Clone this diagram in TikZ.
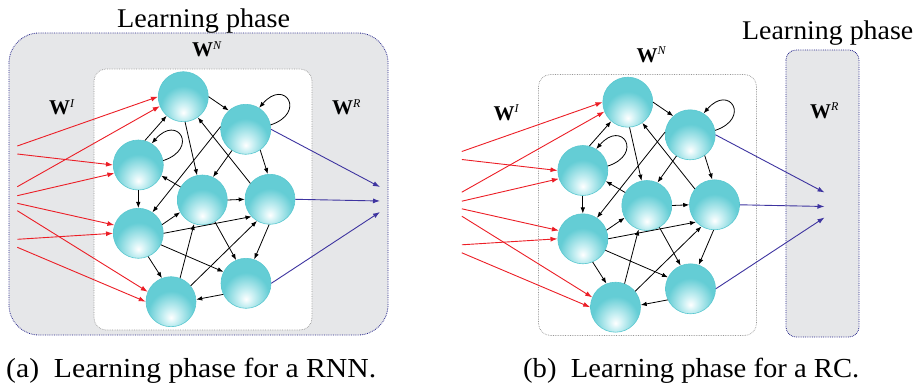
\documentclass[tikz,border=0pt]{standalone}
\usepackage{fontspec}
\setmainfont{Liberation Serif}
\usepackage{graphicx}
\usetikzlibrary{arrows.meta}
\definecolor{ballM}{RGB}{100,205,213}
\definecolor{ballL}{RGB}{205,241,244}
\definecolor{ballE}{RGB}{90,200,208}
\definecolor{redA}{RGB}{236,30,38}
\definecolor{blueA}{RGB}{62,52,160}
\definecolor{grayF}{RGB}{230,231,233}
\definecolor{outerB}{RGB}{40,40,140}
\definecolor{innerB}{RGB}{150,150,150}
\pgfdeclareradialshading{glassball}{\pgfpoint{0bp}{-16bp}}{%
  color(0bp)=(white); color(7bp)=(ballL); color(23bp)=(ballM);
  color(40bp)=(ballM); color(100bp)=(ballM)}
\tikzset{
  ball/.style={circle, minimum size=50pt, inner sep=0pt, shading=glassball,
    draw=ballE, line width=0.6pt},
  blk/.style={draw=black, line width=0.8pt, -{Latex[length=6pt,width=4.5pt]}},
  redar/.style={draw=redA, line width=0.9pt, -{Latex[length=7pt,width=5pt]}},
  bluear/.style={draw=blueA, line width=0.9pt, -{Latex[length=7pt,width=5pt]}},
  lptxt/.style={font=\fontsize{27}{30}\selectfont, inner sep=0pt, anchor=base west},
  wlab/.style={font=\fontsize{21}{23}\selectfont\bfseries, inner sep=0pt, anchor=base west},
  captxt/.style={font=\fontsize{27.5}{30}\selectfont, inner sep=0pt, anchor=base west},
  outerbox/.style={fill=grayF, draw=outerB, line width=0.8pt, densely dotted},
  innerbox/.style={fill=white, draw=innerB, line width=0.7pt, densely dotted}
}
\newcommand\Wsup[1]{W\raisebox{7.5pt}{\fontsize{12}{12}\selectfont\mdseries\itshape #1}}
\newcommand\mynet[1]{%
  % inner box
  \draw[innerbox, rounded corners=12pt] (94,69) rectangle (312,330);
  \node[wlab] (#1wn) at (192,56.7) {\Wsup{N}};
  \node[wlab] (#1wi) at (49,115) {\Wsup{I}};
  % neurons
  \node[ball] (#1n1) at (183.3,96.7) {};
  \node[ball] (#1n2) at (245.7,129.3) {};
  \node[ball] (#1n3) at (138.3,165) {};
  \node[ball] (#1n4) at (202.3,200) {};
  \node[ball] (#1n5) at (270,199.3) {};
  \node[ball] (#1n6) at (138.3,233.3) {};
  \node[ball] (#1n7) at (246,283.3) {};
  \node[ball] (#1n8) at (171,301.7) {};
  % internal connections
  \draw[blk] (#1n1.0) -- (#1n2.132);
  \draw[blk] (#1n3.75) -- (#1n1.229);
  \draw[blk] (#1n1.274) -- (#1n4.102);
  \draw[blk] (#1n5.141) -- (#1n1.305);
  \draw[blk] (#1n2.174) -- (#1n6.56);
  \draw[blk] (#1n2.237) -- (#1n4.65);
  \draw[blk] (#1n2.305) -- (#1n5.95);
  \draw[blk] (#1n4.149) -- (#1n3.335);
  \draw[blk] (#1n3.270) -- (#1n6.90);
  \draw[blk] (#1n4.0) -- (#1n5.180);
  \draw[blk] (#1n6.20) -- (#1n4.209);
  \draw[blk] (#1n6.0) -- (#1n5.223);
  \draw[blk] (#1n6.333) -- (#1n7.153);
  \draw[blk] (#1n6.293) -- (#1n8.111);
  \draw[blk] (#1n8.69) -- (#1n4.251);
  \draw[blk] (#1n8.39) -- (#1n5.239);
  \draw[blk] (#1n4.300) -- (#1n7.113);
  \draw[blk] (#1n5.268) -- (#1n7.71);
  \draw[blk] (#1n7.206) -- (#1n8.5);
  % self loops
  \draw[blk] (#1n2.10) .. controls +(36,-12) and +(26,-30) .. (#1n2.58);
  \draw[blk] (#1n3.10) .. controls +(36,-12) and +(26,-30) .. (#1n3.58);
  % input connections
  \coordinate (#1s1) at (17.3,146);
  \coordinate (#1s2) at (17.3,154);
  \coordinate (#1s3) at (17.3,186.7);
  \coordinate (#1s4) at (17.3,195.7);
  \coordinate (#1s5) at (17.3,203.3);
  \coordinate (#1s6) at (17.3,210.7);
  \coordinate (#1s7) at (17.3,239.3);
  \coordinate (#1s8) at (17.3,247.3);
  \draw[redar] (#1s1) -- (#1n1.180);
  \draw[redar] (#1s2) -- (#1n3.180);
  \draw[redar] (#1s3) -- (#1n1.202);
  \draw[redar] (#1s4) -- (#1n3.199);
  \draw[redar] (#1s5) -- (#1n6.161);
  \draw[redar] (#1s6) -- (#1n8.157);
  \draw[redar] (#1s7) -- (#1n6.180);
  \draw[redar] (#1s8) -- (#1n8.180);
  % readout
  \coordinate (#1t1) at (380,187);
  \coordinate (#1t2) at (380,201);
  \coordinate (#1t3) at (380,212);
  \draw[bluear] (#1n2.0) -- (#1t1);
  \draw[bluear] (#1n5.0) -- (#1t2);
  \draw[bluear] (#1n7.0) -- (#1t3);
}
\begin{document}
\begin{tikzpicture}[x=1pt,y=-1pt]
\useasboundingbox (0,0) rectangle (917,387);
% ---------- panel (a)
\draw[outerbox, rounded corners=30pt] (9,33) rectangle (388,335);
\node[lptxt] (lpa) at (117,28) {\resizebox{173pt}{\height}{Learning phase}};
\node[wlab] (wra) at (332,115) {\Wsup{R}};
\mynet{a}
\node[captxt] (capa) at (6,377) {\resizebox{370pt}{\height}{(a)\hspace{0.5em}Learning phase for a RNN.}};
% ---------- panel (b)
\draw[outerbox, rounded corners=10pt] (786,50) rectangle (859,337);
\node[lptxt] (lpb) at (742,40) {\resizebox{171pt}{\height}{Learning phase}};
\node[wlab] (wrb) at (810,118.3) {\Wsup{R}};
\begin{scope}[shift={(444.5,5.5)}]
\mynet{b}
\end{scope}
\node[captxt] (capb) at (523,377) {\resizebox{336pt}{\height}{(b)\hspace{0.5em}Learning phase for a RC.}};
\end{tikzpicture}
\end{document}
